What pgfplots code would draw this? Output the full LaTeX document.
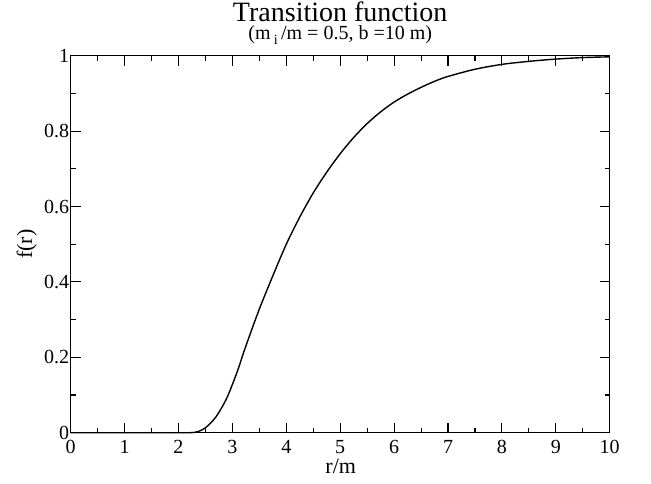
\documentclass[border=0pt]{standalone}
\usepackage{pgfplots}
\pgfplotsset{compat=1.18}
\usepackage{fontspec}
\setmainfont{Liberation Serif}

\begin{document}
\begin{tikzpicture}
  % frame of the whole picture (1px = 1pt)
  \useasboundingbox (-70.7pt,-50.3pt) rectangle (580.3pt,432.7pt);
  \begin{axis}[
    at={(0,0)}, anchor=south west,
    scale only axis,
    width=539pt, height=377pt,
    xmin=0, xmax=10, ymin=0, ymax=1,
    xtick={0,1,...,10},
    ytick={0,0.2,0.4,0.6,0.8,1},
    yticklabels={0,0.2,0.4,0.6,0.8,1},
    minor x tick num=1,
    minor y tick num=1,
    tick align=inside,
    major tick length=10pt,
    minor tick length=5pt,
    every tick/.style={black, line width=1.1pt},
    axis line style={line width=1.3pt},
    tick label style={font=\fontsize{20}{20}\selectfont},
    /pgf/number format/assume math mode=true,
    xticklabel style={yshift=-4pt},
    yticklabel style={xshift=2pt},
    clip=false,
  ]
    \addplot[black, line width=1.4pt, smooth] coordinates {
      (0,0) (1,0) (2,0) (2.2,0) (2.3,0.001) (2.4,0.005) (2.5,0.013)
      (2.6,0.026) (2.7,0.043) (2.8,0.066) (2.9,0.093) (3.0,0.128)
      (3.1,0.166) (3.25,0.230) (3.5,0.328) (3.75,0.416) (4.0,0.500)
      (4.25,0.572) (4.5,0.636) (4.75,0.691) (5.0,0.740) (5.25,0.783)
      (5.5,0.820) (5.75,0.851) (6.0,0.877) (6.25,0.898) (6.5,0.916)
      (6.75,0.932) (7.0,0.945) (7.5,0.964) (8.0,0.977) (8.5,0.985)
      (9.0,0.991) (9.5,0.995) (10,0.997)
    };
  \end{axis}
  % titles and axis labels
  \node[anchor=base, inner sep=0pt, font=\fontsize{28}{28}\selectfont] at (269.5pt,411.5pt) {Transition function};
  \node[anchor=base, inner sep=0pt, font=\fontsize{20}{20}\selectfont] at (269.5pt,393.5pt)
    {(m\,\raisebox{-0.55ex}{\fontsize{14}{14}\selectfont i}\,/m = 0.5, b =10 m)};
  \node[anchor=base, inner sep=0pt, font=\fontsize{22}{22}\selectfont] at (270pt,-41pt) {r/m};
  \node[anchor=base, inner sep=0pt, rotate=90, font=\fontsize{22}{22}\selectfont] at (-38.5pt,188.5pt) {f(r)};
\end{tikzpicture}
\end{document}
